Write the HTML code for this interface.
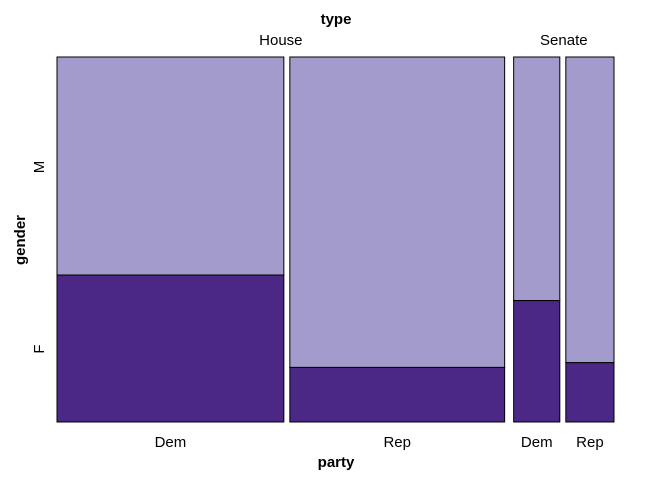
<!DOCTYPE html>
<html><head><meta charset="utf-8"><style>
body{margin:0;background:#fff}
svg text{font-family:"Liberation Sans",Arial,sans-serif;font-size:15px;fill:#000}
</style></head><body>
<svg id="chart" width="672" height="480" xmlns="http://www.w3.org/2000/svg">
<text x="336" y="24" text-anchor="middle" font-weight="bold">type</text>
<text x="25" y="240" text-anchor="middle" font-weight="bold" transform="rotate(-90 25 240)">gender</text>
<text x="336" y="467" text-anchor="middle" font-weight="bold">party</text>
<text x="44" y="167" text-anchor="middle" transform="rotate(-90 44 167)">M</text>
<text x="44" y="349" text-anchor="middle" transform="rotate(-90 44 349)">F</text>
<g id="cells"></g>
</svg>
<script>
const types = ["House","House","Senate","Senate"];
const parties = ["Dem","Rep","Dem","Rep"];
const totals = [226,214,46,48];
const females = [91,32,15.3,7.8];

const svg = document.getElementById('chart');
const g = document.getElementById('cells');
const NS = "http://www.w3.org/2000/svg";
const x0 = 57, x1 = 614, yTop = 57, yBot = 422;
const gapIn = 6, gapOut = 9;
let gaps = 0;
for (let i = 1; i < types.length; i++) gaps += (types[i] === types[i-1]) ? gapIn : gapOut;
const sum = totals.reduce((a,b)=>a+b,0);
const scale = (x1 - x0 - gaps) / sum;
const yScale = v => yBot - v * (yBot - yTop);
let x = x0;
const typeSpans = {};
for (let i = 0; i < totals.length; i++) {
  if (i > 0) x += (types[i] === types[i-1]) ? gapIn : gapOut;
  const w = totals[i] * scale;
  const fy = yScale(females[i] / totals[i]);
  const m = document.createElementNS(NS,'rect');
  m.setAttribute('x', x); m.setAttribute('y', yTop); m.setAttribute('width', w); m.setAttribute('height', fy - yTop);
  m.setAttribute('fill', '#a29bcb'); m.setAttribute('stroke', '#000'); m.setAttribute('stroke-width', '1');
  
  
  g.appendChild(m);
  const f = document.createElementNS(NS,'rect');
  f.setAttribute('x', x); f.setAttribute('y', fy); f.setAttribute('width', w); f.setAttribute('height', yBot - fy);
  f.setAttribute('fill', '#4b2885'); f.setAttribute('stroke', '#000'); f.setAttribute('stroke-width', '1');
  
  
  g.appendChild(f);
  const t = document.createElementNS(NS,'text');
  t.setAttribute('x', x + w/2); t.setAttribute('y', 447); t.setAttribute('text-anchor', 'middle');
  t.textContent = parties[i];
  
  
  svg.appendChild(t);
  if (!typeSpans[types[i]]) typeSpans[types[i]] = [x, x + w];
  typeSpans[types[i]][1] = x + w;
  x += w;
}
for (const k in typeSpans) {
  const t = document.createElementNS(NS,'text');
  t.setAttribute('x', (typeSpans[k][0] + typeSpans[k][1]) / 2); t.setAttribute('y', 45); t.setAttribute('text-anchor', 'middle');
  t.textContent = k;
  
  
  svg.appendChild(t);
}
</script>
</body></html>
